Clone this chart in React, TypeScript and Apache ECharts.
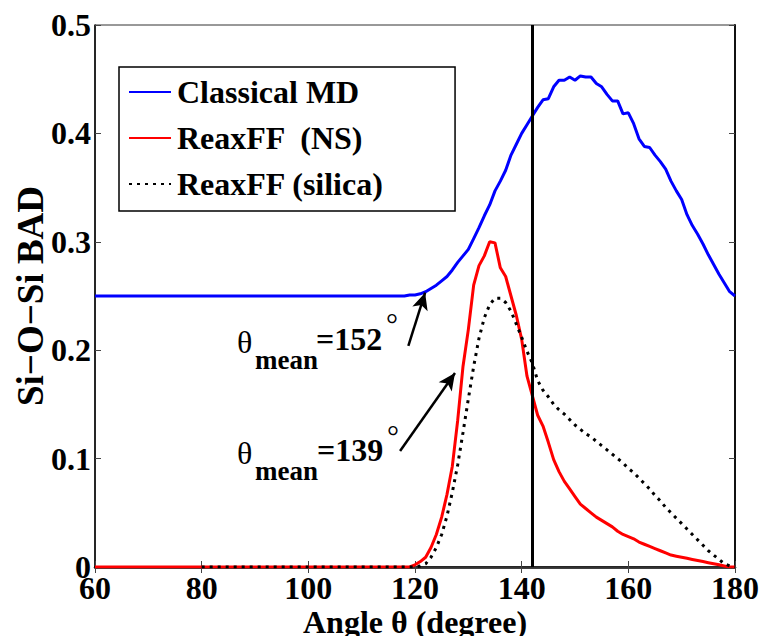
import React, { useEffect, useRef } from "react";
import * as echarts from "echarts";

// Si–O–Si bond angle distributions (angle in degrees, fraction)
const classicalAngles = [
  60, 62, 64, 66, 68, 70, 72, 74, 76, 78, 80, 82, 84, 86, 88, 90, 92, 94, 96, 98, 100,
  102, 104, 106, 108, 110, 112, 114, 116, 117, 118, 119, 120, 121, 122, 123, 124, 125,
  126, 127, 128, 129, 130, 131, 132, 133, 134, 135, 136, 137, 138, 139, 140, 141, 142,
  143, 144, 145, 146, 147, 148, 149, 150, 151, 152, 153, 154, 155, 156, 157, 158, 159,
  160, 161, 162, 163, 164, 165, 166, 167, 168, 169, 170, 171, 172, 173, 174, 175, 176,
  177, 178, 179, 180,
];
const classicalValues = [
  0.25, 0.25, 0.25, 0.25, 0.25, 0.25, 0.25, 0.25, 0.25, 0.25, 0.25, 0.25, 0.25, 0.25,
  0.25, 0.25, 0.25, 0.25, 0.25, 0.25, 0.25, 0.25, 0.25, 0.25, 0.25, 0.25, 0.25, 0.25,
  0.25, 0.25, 0.25, 0.251, 0.251, 0.252, 0.254, 0.257, 0.26, 0.264, 0.268, 0.274, 0.281,
  0.287, 0.293, 0.303, 0.313, 0.324, 0.334, 0.347, 0.356, 0.366, 0.38, 0.39, 0.4, 0.408,
  0.416, 0.424, 0.431, 0.432, 0.443, 0.449, 0.449, 0.452, 0.449, 0.453, 0.452, 0.452,
  0.446, 0.443, 0.436, 0.43, 0.43, 0.418, 0.419, 0.409, 0.395, 0.388, 0.387, 0.38, 0.374,
  0.367, 0.356, 0.347, 0.339, 0.325, 0.315, 0.307, 0.298, 0.288, 0.279, 0.27, 0.262,
  0.254, 0.25,
];

const nsAngles = [
  60, 70, 80, 90, 100, 110, 115, 119, 120, 121, 122, 123, 124, 125, 126, 127, 128, 129,
  130, 131, 132, 133, 134, 135, 136, 137, 138, 139, 140, 141, 142, 143, 144, 145, 146,
  147, 148, 149, 150, 151, 152, 153, 154, 155, 156, 157, 158, 159, 160, 161, 162, 163,
  164, 165, 166, 167, 168, 169, 170, 171, 172, 173, 174, 175, 176, 177, 178, 179, 180,
];
const nsValues = [
  0, 0, 0, 0, 0, 0, 0, 0, 0.002, 0.005, 0.009, 0.018, 0.03, 0.046, 0.067, 0.093, 0.135,
  0.185, 0.219, 0.26, 0.278, 0.287, 0.3, 0.299, 0.276, 0.268, 0.25, 0.232, 0.21, 0.176,
  0.158, 0.14, 0.13, 0.115, 0.099, 0.088, 0.079, 0.072, 0.065, 0.058, 0.054, 0.05, 0.046,
  0.043, 0.04, 0.037, 0.033, 0.03, 0.028, 0.026, 0.023, 0.021, 0.019, 0.017, 0.015,
  0.013, 0.011, 0.01, 0.009, 0.008, 0.007, 0.006, 0.005, 0.004, 0.003, 0.002, 0.001, 0,
  0,
];

const silicaAngles = [
  80, 90, 100, 110, 115, 120, 121, 122, 123, 124, 125, 126, 127, 128, 129, 130, 131, 132,
  133, 134, 135, 136, 137, 138, 139, 140, 141, 142, 143, 144, 145, 146, 147, 148, 149,
  150, 151, 152, 153, 154, 155, 156, 157, 158, 159, 160, 161, 162, 163, 164, 165, 166,
  167, 168, 169, 170, 171, 172, 173, 174, 175, 176, 177, 178, 179, 180,
];
const silicaValues = [
  0, 0, 0, 0, 0, 0, 0.001, 0.003, 0.009, 0.018, 0.03, 0.047, 0.069, 0.094, 0.124, 0.155,
  0.185, 0.211, 0.23, 0.242, 0.248, 0.248, 0.244, 0.236, 0.224, 0.212, 0.199, 0.188,
  0.172, 0.163, 0.157, 0.15, 0.145, 0.141, 0.136, 0.131, 0.127, 0.123, 0.12, 0.116,
  0.112, 0.108, 0.104, 0.1, 0.096, 0.091, 0.087, 0.082, 0.077, 0.072, 0.066, 0.061,
  0.055, 0.05, 0.045, 0.04, 0.035, 0.03, 0.025, 0.02, 0.015, 0.011, 0.007, 0.003, 0.001,
  0,
];

const seriesNames = ["Classical MD", "ReaxFF  (NS)", "ReaxFF (silica)"];
const cutoffAngle = 142;

// annotation arrows: [tail, head] in (angle, fraction)
const arrowClassical = [
  [118.75, 0.204],
  [121.9, 0.253],
];
const arrowReax = [
  [117.2, 0.107],
  [127.5, 0.179],
];

const xTicks = { min: 60, max: 180, interval: 20 };
const yTicks = { min: 0, max: 0.5, interval: 0.1 };

const serif = "'Liberation Serif', 'Times New Roman', serif";

const zip = (xs: number[], ys: number[]) => xs.map((x, i) => [x, ys[i]]);

export default function App() {
  const ref = useRef<HTMLDivElement>(null);

  useEffect(() => {
    if (!ref.current) return;
    document.body.style.margin = "0";
    const chart = echarts.init(ref.current, undefined, { renderer: "svg" });

    const tickStyle = {
      show: true,
      inside: true,
      length: 6,
      lineStyle: { color: "#444", width: 1 },
    };
    const labelFont = {
      fontFamily: serif,
      fontWeight: "bold" as const,
      fontSize: 32,
      color: "#000",
    };

    const arrowLine = (pts: number[][]) => [
      { coord: pts[0], symbol: "none" },
      { coord: pts[1], symbol: "arrow", symbolSize: [12, 17] },
    ];

    chart.setOption({
      animation: false,
      backgroundColor: "#fff",
      grid: {
        left: 95,
        right: 27,
        top: 25,
        bottom: 69,
        containLabel: false,
        outerBoundsMode: "none",
        show: true,
        borderColor: "#333",
        borderWidth: 1,
      },
      legend: {
        left: 119,
        top: 67,
        orient: "vertical",
        data: seriesNames,
        itemWidth: 42,
        itemHeight: 10,
        itemGap: 14,
        padding: [9, 71, 11, 9],
        borderColor: "#000",
        borderWidth: 1.5,
        backgroundColor: "#fff",
        itemStyle: { color: "transparent", borderColor: "transparent", opacity: 0 },
        textStyle: {
          fontFamily: serif,
          fontWeight: "bold",
          fontSize: 32,
          color: "#000",
          padding: [0, 0, 0, 1],
        },
      },
      xAxis: [
        {
          type: "value",
          min: xTicks.min,
          max: xTicks.max,
          interval: xTicks.interval,
          position: "bottom",
          name: "Angle θ (degree)",
          nameLocation: "middle",
          nameGap: 39,
          nameMoveOverlap: false,
          nameTextStyle: { ...labelFont },
          axisLine: { show: true, lineStyle: { color: "#000", width: 2.5 } },
          axisTick: tickStyle,
          axisLabel: { ...labelFont, margin: 5 },
          splitLine: { show: false },
        },
        {
          type: "value",
          min: xTicks.min,
          max: xTicks.max,
          interval: xTicks.interval,
          position: "top",
          axisLine: { show: true, lineStyle: { color: "#333", width: 1 } },
          axisTick: tickStyle,
          axisLabel: { show: false },
          splitLine: { show: false },
        },
      ],
      yAxis: [
        {
          type: "value",
          min: yTicks.min,
          max: yTicks.max,
          interval: yTicks.interval,
          position: "left",
          name: "Si−O−Si BAD",
          nameLocation: "middle",
          nameGap: 46,
          nameMoveOverlap: false,
          nameTextStyle: { ...labelFont, fontSize: 37 },
          axisLine: { show: true, lineStyle: { color: "#000", width: 1.5 } },
          axisTick: tickStyle,
          axisLabel: {
            ...labelFont,
            margin: 4,
            formatter: (v: number) => (v === 0 ? "0" : v.toFixed(1)),
          },
          splitLine: { show: false },
        },
        {
          type: "value",
          min: yTicks.min,
          max: yTicks.max,
          interval: yTicks.interval,
          position: "right",
          axisLine: { show: true, lineStyle: { color: "#111", width: 2 } },
          axisTick: tickStyle,
          axisLabel: { show: false },
          splitLine: { show: false },
        },
      ],
      series: [
        {
          name: seriesNames[0],
          type: "line",
          data: zip(classicalAngles, classicalValues),
          symbol: "none",
          lineStyle: { color: "#0000ff", width: 3 },
          itemStyle: { color: "#0000ff" },
          z: 3,
        },
        {
          name: seriesNames[1],
          type: "line",
          data: zip(nsAngles, nsValues),
          symbol: "none",
          lineStyle: { color: "#ff0000", width: 3 },
          itemStyle: { color: "#ff0000" },
          z: 4,
        },
        {
          name: seriesNames[2],
          type: "line",
          data: zip(silicaAngles, silicaValues),
          symbol: "none",
          lineStyle: { color: "#000", width: 3, type: [3, 5] },
          itemStyle: { color: "#000" },
          z: 5,
          markLine: {
            silent: true,
            symbol: "none",
            label: { show: false },
            lineStyle: { color: "#000", width: 3, type: "solid" },
            data: [{ xAxis: cutoffAngle }],
            z: 6,
          },
        },
        {
          name: "arrows",
          type: "line",
          data: [],
          symbol: "none",
          markLine: {
            silent: true,
            label: { show: false },
            lineStyle: { color: "#000", width: 2.5, type: "solid" },
            itemStyle: { color: "#000" },
            data: [arrowLine(arrowClassical), arrowLine(arrowReax)],
            z: 7,
          },
        },
      ],
      graphic: [
        // θ_mean = 152°
        { type: "text", left: 237, top: 326, style: { text: "θ", font: `32px ${serif}`, fill: "#000" } },
        { type: "text", left: 255, top: 346, style: { text: "mean", font: `bold 27px ${serif}`, fill: "#000" } },
        { type: "text", left: 316, top: 323, style: { text: "=152", font: `bold 32px ${serif}`, fill: "#000" } },
        { type: "text", left: 386, top: 308, style: { text: "°", font: `30px ${serif}`, fill: "#000" } },
        // θ_mean = 139°
        { type: "text", left: 237, top: 437, style: { text: "θ", font: `32px ${serif}`, fill: "#000" } },
        { type: "text", left: 255, top: 457, style: { text: "mean", font: `bold 27px ${serif}`, fill: "#000" } },
        { type: "text", left: 317, top: 434, style: { text: "=139", font: `bold 32px ${serif}`, fill: "#000" } },
        { type: "text", left: 387, top: 420, style: { text: "°", font: `30px ${serif}`, fill: "#000" } },
      ],
    });

    return () => chart.dispose();
  }, []);

  return <div ref={ref} style={{ width: 762, height: 636 }} />;
}
